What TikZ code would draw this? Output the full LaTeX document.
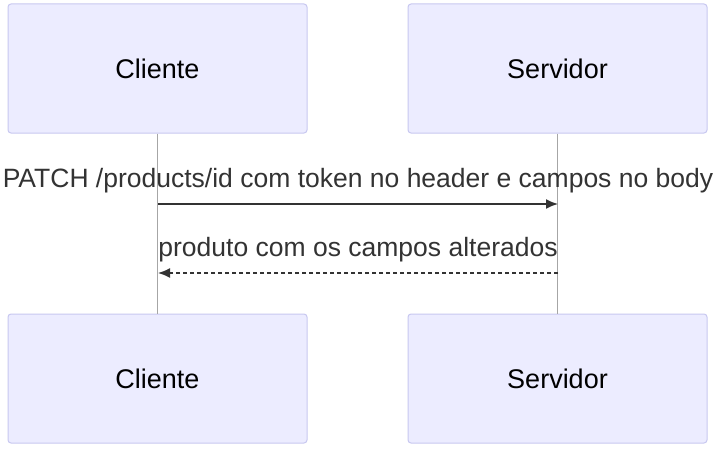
\documentclass[tikz,border=0pt]{standalone}
\usepackage{fontspec}
\setmainfont{Liberation Sans}
\usetikzlibrary{arrows.meta}
\definecolor{boxfill}{HTML}{ECECFF}
\definecolor{boxline}{HTML}{C8C8F0}
\definecolor{txt}{HTML}{333333}
\begin{document}
\begin{tikzpicture}[x=1pt,y=-1pt,
  actor/.style={draw=boxline,fill=boxfill,rounded corners=3pt,line width=1pt,minimum width=299pt,minimum height=129pt,font=\fontsize{27}{31}\selectfont,text=black},
  life/.style={draw=gray!70,line width=0.8pt},
  msg/.style={draw=txt,line width=1.6pt,-{Latex[length=12pt,width=10pt]}},
  lbl/.style={font=\fontsize{26.5}{30}\selectfont,text=txt}]
\useasboundingbox (0,0) rectangle (714,452);
\fill[white] (0,0) rectangle (714,452);
\node[actor] (c1) at (157.5,68.5) {Cliente};
\node[actor] (s1) at (557.5,68.5) {Servidor};
\node[actor] (c2) at (157.5,378.5) {Cliente};
\node[actor] (s2) at (557.5,378.5) {Servidor};
\draw[life] (c1.south) -- (c2.north);
\draw[life] (s1.south) -- (s2.north);
\coordinate (a1) at (158,204); \coordinate (b1) at (558,204);
\coordinate (a2) at (558,273); \coordinate (b2) at (158,273);
\draw[msg] (a1) -- (b1);
\draw[msg,dash pattern=on 4pt off 3pt] (a2) -- (b2);
\node[lbl] (l1) at (358,181) {PATCH /products/id com token no header e campos no body};
\node[lbl] (l2) at (358,250) {produto com os campos alterados};
\end{tikzpicture}
\end{document}
